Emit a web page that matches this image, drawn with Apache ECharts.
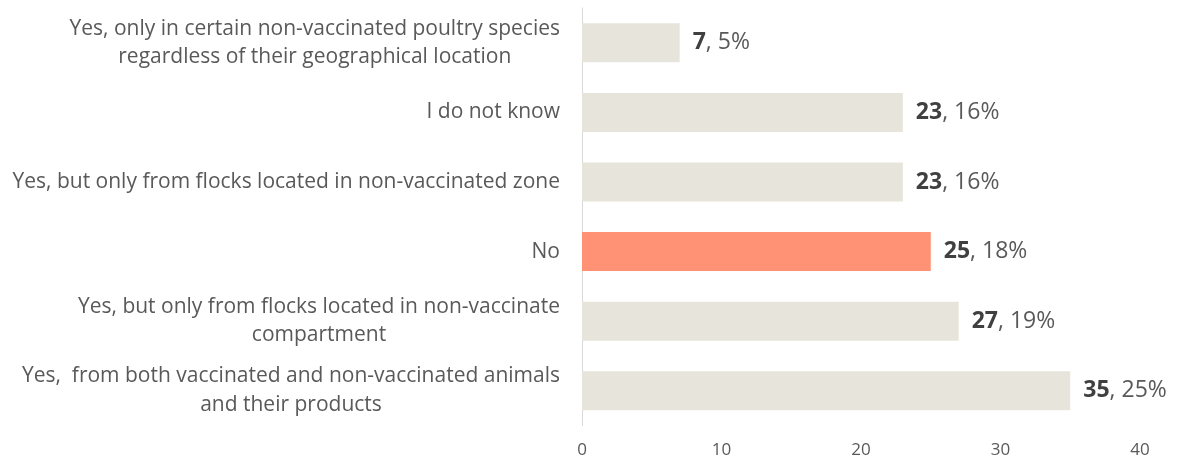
<!DOCTYPE html>
<html>
<head>
<meta charset="utf-8">
<script src="https://cdn.jsdelivr.net/npm/echarts@6/dist/echarts.min.js"></script>
<style>html,body{margin:0;padding:0;background:#fff;}#c{width:1177px;height:461px;}</style>
</head>
<body>
<div id="c"></div>
<script>
// Categories listed bottom-to-top (ECharts category axis order)
var categories = [
  "Yes,  from both vaccinated and non-vaccinated animals\nand their products",
  "Yes, but only from flocks located in non-vaccinate\ncompartment",
  "No",
  "Yes, but only from flocks located in non-vaccinated zone",
  "I do not know",
  "Yes, only in certain non-vaccinated poultry species\nregardless of their geographical location"
];
var counts = [35, 27, 25, 23, 23, 7];
var percents = [25, 19, 18, 16, 16, 5];
var highlighted = ["No"];
var xTicks = [0, 10, 20, 30, 40];

var FONT = '"Open Sans"';
var chart = echarts.init(document.getElementById('c'), null, {renderer: 'canvas'});
var option = {
  animation: false,
  backgroundColor: '#ffffff',
  grid: {left: 582, right: 37, top: 8, bottom: 35.5, containLabel: false},
  xAxis: {
    type: 'value', min: xTicks[0], max: xTicks[xTicks.length - 1], interval: 10,
    axisLine: {show: false}, axisTick: {show: false}, splitLine: {show: false},
    axisLabel: {color: '#595959', fontFamily: FONT, fontSize: 17, margin: 16}
  },
  yAxis: {
    type: 'category', data: categories,
    axisLine: {show: true, lineStyle: {color: '#d9d9d9', width: 1}},
    axisTick: {show: false},
    axisLabel: {
      margin: 22, color: '#595959', fontFamily: FONT, fontSize: 21,
      formatter: function (v) {
        return v.split('\n').map(function (l) { return '{c|' + l + '}'; }).join('\n');
      },
      rich: {c: {align: 'center', color: '#595959', fontFamily: FONT, fontSize: 21, lineHeight: 28.5}}
    }
  },
  series: [{
    type: 'bar', barWidth: 39,
    data: counts.map(function (v, i) {
      return {
        value: v,
        itemStyle: {color: highlighted.indexOf(categories[i]) >= 0 ? '#FF9275' : '#E7E5DB'}
      };
    }),
    label: {
      show: true, position: 'right', distance: 13,
      formatter: function (p) { return '{b|' + p.value + '}{n|, ' + percents[p.dataIndex] + '%}'; },
      rich: {
        b: {fontWeight: 'bold', color: '#404040', fontFamily: FONT, fontSize: 23},
        n: {color: '#595959', fontFamily: FONT, fontSize: 23}
      }
    }
  }]
};
chart.setOption(option);
</script>
</body>
</html>
